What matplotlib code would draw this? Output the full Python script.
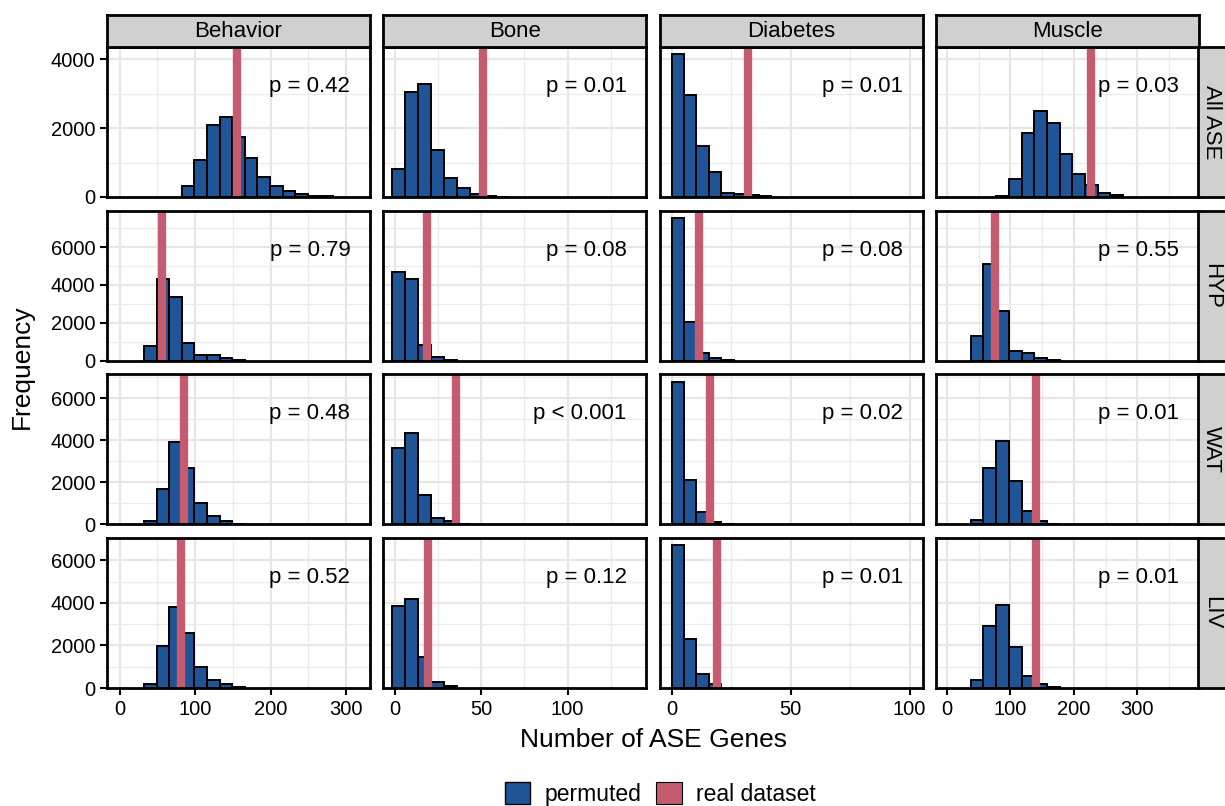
import numpy as np
import matplotlib.pyplot as plt
from matplotlib.patches import Patch

plt.rcParams['font.family'] = ['Liberation Sans', 'DejaVu Sans']

BLUE = '#1F5597'
RED = '#C45B6E'

tissues = ['Behavior', 'Bone', 'Diabetes', 'Muscle']
sets = ['All ASE', 'HYP', 'WAT', 'LIV']

# histogram bin grid per column (first edge, bin width)
bin_edge0 = [-1.1, -1.2, 0.0, -2.5]
bin_width = [16.7, 7.5, 5.25, 20.0]

# index of first drawn bin, per panel (rows = sets, cols = tissues)
first_bin = [[5, 0, 0, 4],
             [2, 0, 0, 2],
             [2, 0, 0, 2],
             [2, 0, 0, 2]]

counts = [
    [[312, 1073, 2098, 2312, 1756, 1122, 585, 322, 176, 98, 40, 15],
     [812, 3063, 3275, 1372, 551, 261, 87, 30, 10],
     [4150, 2966, 1469, 715, 116, 97, 68, 39],
     [30, 535, 1868, 2500, 2160, 1255, 671, 360, 117, 49]],
    [[790, 4333, 3368, 947, 316, 280, 158, 30],
     [4684, 4333, 825, 210, 40],
     [7544, 2018, 386, 140, 30],
     [1316, 5123, 2632, 526, 386, 140, 30]],
    [[145, 1694, 3919, 2710, 1016, 403, 161, 30],
     [3661, 4355, 1403, 323, 161, 30],
     [6806, 2129, 597, 113, 30],
     [226, 2694, 3984, 2048, 645, 161, 30]],
    [[188, 1962, 3783, 2600, 973, 377, 173, 30],
     [3846, 4191, 1444, 267, 110],
     [6703, 2308, 659, 188],
     [392, 2936, 3909, 1947, 581, 173, 30]],
]

real_value = [[156, 51, 32, 227],
              [56, 19, 11.4, 75],
              [85, 35.6, 16, 141],
              [81, 19.4, 19, 141]]

p_text = [['p = 0.42', 'p = 0.01', 'p = 0.01', 'p = 0.03'],
          ['p = 0.79', 'p = 0.08', 'p = 0.08', 'p = 0.55'],
          ['p = 0.48', 'p < 0.001', 'p = 0.02', 'p = 0.01'],
          ['p = 0.52', 'p = 0.12', 'p = 0.01', 'p = 0.01']]

x_ticks = [[0, 100, 200, 300], [0, 50, 100], [0, 50, 100], [0, 100, 200, 300]]
x_minor = [[50, 150, 250], [25, 75, 125], [25, 75], [50, 150, 250, 350]]
x_limits = [(-17, 332), (-6.5, 145.5), (-5, 105.5), (-17.5, 397)]
y_ticks = [[0, 2000, 4000], [0, 2000, 4000, 6000],
           [0, 2000, 4000, 6000], [0, 2000, 4000, 6000]]
y_minor = [[1000, 3000], [1000, 3000, 5000, 7000],
           [1000, 3000, 5000, 7000], [1000, 3000, 5000, 7000]]

W, H = 1225, 806
fig = plt.figure(figsize=(W / 100, H / 100), dpi=100)


def px_box(x0, y0, x1, y1):
    return [x0 / W, 1 - y1 / H, (x1 - x0) / W, (y1 - y0) / H]


PW, PH = 263, 150
lefts = [107 + i * 276.3 for i in range(4)]
tops = [47 + j * 163.7 for j in range(4)]

for r in range(4):
    row_max = max(max(c) for c in counts[r])
    for c in range(4):
        ax = fig.add_axes(px_box(lefts[c], tops[r], lefts[c] + PW, tops[r] + PH))
        cnt = counts[r][c]
        edges = bin_edge0[c] + bin_width[c] * (first_bin[r][c] + np.arange(len(cnt)))
        ax.bar(edges, cnt, width=bin_width[c], align='edge', color=BLUE,
               edgecolor='black', linewidth=1.4, zorder=2)
        ax.axvline(real_value[r][c], color=RED, lw=6, zorder=3)
        ax.set_xlim(*x_limits[c])
        ax.set_ylim(0, row_max * 1.05)
        ax.set_xticks(x_ticks[c])
        ax.set_xticks(x_minor[c], minor=True)
        ax.set_yticks(y_ticks[r])
        ax.set_yticks(y_minor[r], minor=True)
        ax.grid(which='major', color='#E6E6E6', lw=1.6, zorder=0)
        ax.grid(which='minor', color='#EBEBEB', lw=0.9, zorder=0)
        ax.set_axisbelow(True)
        for s in ax.spines.values():
            s.set_linewidth(2)
            s.set_zorder(4)
        ax.tick_params(which='minor', length=0)
        ax.tick_params(which='major', labelsize=14.5, length=5, width=1.5,
                       pad=3.5, colors='black',
                       left=(c == 0), labelleft=(c == 0),
                       bottom=(r == 3), labelbottom=(r == 3))
        ax.text(0.925, 0.70, p_text[r][c], transform=ax.transAxes,
                ha='right', va='baseline', fontsize=16)

# column strips
for c in range(4):
    sx = fig.add_axes(px_box(lefts[c], 15, lefts[c] + PW, 47))
    sx.set_facecolor('#D0D0D0')
    sx.set_xticks([])
    sx.set_yticks([])
    for s in sx.spines.values():
        s.set_linewidth(2)
    sx.text(0.5, 0.48, tissues[c], transform=sx.transAxes,
            ha='center', va='center', fontsize=16)

# row strips
for r in range(4):
    sx = fig.add_axes(px_box(1198, tops[r], 1230, tops[r] + PH))
    sx.set_facecolor('#D0D0D0')
    sx.set_xticks([])
    sx.set_yticks([])
    for s in sx.spines.values():
        s.set_linewidth(2)
    sx.text(0.42, 0.5, sets[r], transform=sx.transAxes, rotation=-90,
            ha='center', va='center', fontsize=16)

fig.text(653.5 / W, 1 - 740 / H, 'Number of ASE Genes',
         ha='center', va='center', fontsize=19)
fig.text(22 / W, 1 - 367 / H, 'Frequency', rotation=90,
         ha='center', va='center', fontsize=19)

handles = [Patch(facecolor=BLUE, edgecolor='black', lw=1, label='permuted'),
           Patch(facecolor=RED, edgecolor='black', lw=0.8, label='real dataset')]
fig.legend(handles=handles, ncol=2, loc='center', frameon=False,
           bbox_to_anchor=(660 / W, 1 - 794 / H), fontsize=16.5,
           handlelength=1.13, handleheight=1.13, handletextpad=0.6,
           columnspacing=0.65, borderpad=0)

fig.savefig('out.png', dpi=100)
